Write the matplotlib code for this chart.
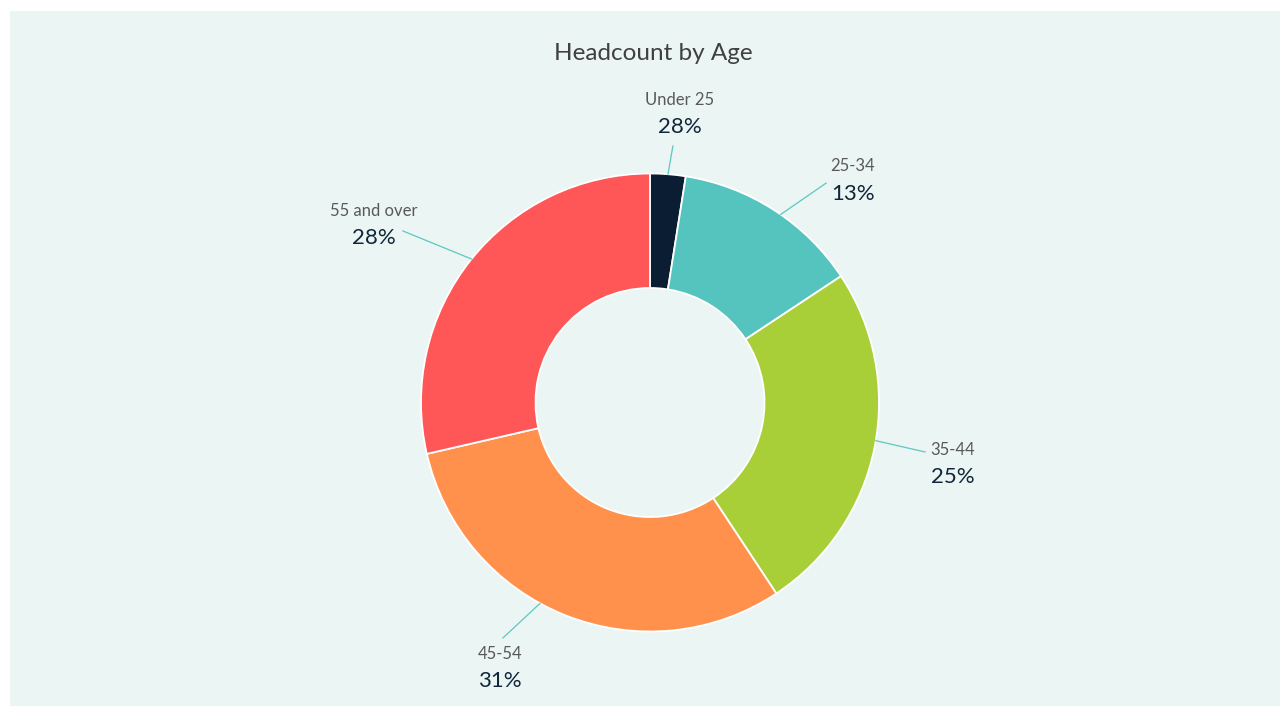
import matplotlib
matplotlib.use("Agg")
import matplotlib.pyplot as plt
from matplotlib.patches import Rectangle
import numpy as np

plt.rcParams['font.family'] = ['Lato', 'DejaVu Sans']

# ---- data ----
categories = ["Under 25", "25-34", "35-44", "45-54", "55 and over"]
values = [2.5, 13.2, 25.0, 30.7, 28.6]
pct_labels = ["28%", "13%", "25%", "31%", "28%"]
colors = ["#0B1D33", "#55C4BE", "#A9CF38", "#FF914D", "#FF5757"]

# ---- layout (label anchor positions in units of outer radius) ----
name_pos = [(0.131, 1.319), (0.886, 1.033), (1.323, -0.207), (-0.655, -1.098), (-1.205, 0.836)]
pct_pos = [(0.131, 1.203), (0.886, 0.910), (1.323, -0.325), (-0.655, -1.216), (-1.205, 0.718)]
leader_start_deg = [85.5, 55.2, -9.6, -118.7, 141.2]   # point on outer edge (deg, ccw from +x)
leader_end = [(0.100, 1.120), (0.769, 0.958), (1.201, -0.216), (-0.642, -1.028), (-1.079, 0.749)]

W, H = 1282, 708
fig = plt.figure(figsize=(W / 100, H / 100), dpi=100)
fig.patch.set_facecolor("white")

ax = fig.add_axes([0, 0, 1, 1])
ax.set_facecolor("none")
ax.add_patch(Rectangle((10 / W, 2 / H), 1270 / W, 695 / H, transform=fig.transFigure,
                       facecolor="#EBF5F3", edgecolor="none", zorder=-10))
cx, cy, R = 650, 402.5, 229.0
wedges, _ = ax.pie(values, colors=colors, startangle=90, counterclock=False, radius=1.0,
                   wedgeprops=dict(width=0.5, edgecolor="white", linewidth=1.3))
ax.set_xlim(-cx / R, (W - cx) / R)
ax.set_ylim(-(H - cy) / R, cy / R)
ax.set_aspect("equal", adjustable="datalim")
ax.axis("off")

for i, w in enumerate(wedges):
    a = np.deg2rad(leader_start_deg[i])
    sx, sy = np.cos(a), np.sin(a)
    ex, ey = leader_end[i]
    ax.plot([sx, ex], [sy, ey], color="#5CC8C0", lw=0.9, zorder=1)
    ax.text(*name_pos[i], categories[i], ha="center", va="center", fontsize=12, color="#595959")
    ax.text(*pct_pos[i], pct_labels[i], ha="center", va="center", fontsize=16, color="#10263A")

fig.text(653 / W, 1 - 53 / H, "Headcount by Age", ha="center", va="center", fontsize=17.5,
         color="#404040")

fig.savefig("out.png", dpi=100, facecolor=fig.get_facecolor())
